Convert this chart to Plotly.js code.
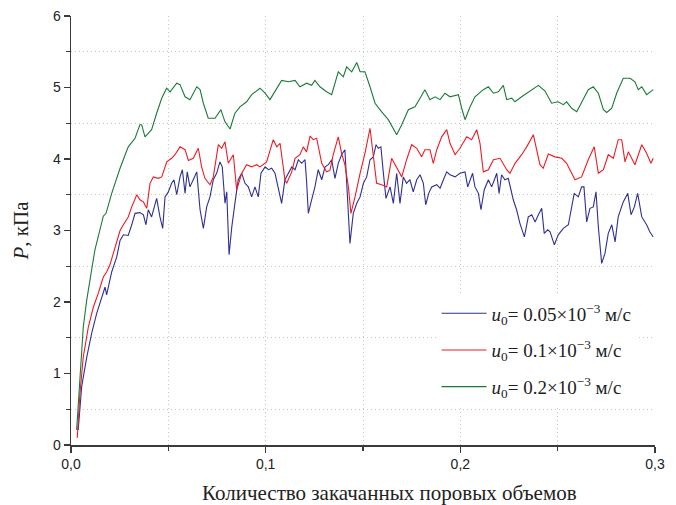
<!DOCTYPE html>
<html>
<head>
<meta charset="utf-8">
<script src="https://cdn.plot.ly/plotly-3.0.1.min.js"></script>
<style>html,body{margin:0;padding:0;background:#fff;}#chart{width:676px;height:505px;}</style>
</head>
<body>
<div id="chart"></div>
<script>
var seriesNames = [
  "<i>u</i><sub>0</sub>= 0.05×10<sup>−3</sup> м/с",
  "<i>u</i><sub>0</sub>= 0.1×10<sup>−3</sup> м/с",
  "<i>u</i><sub>0</sub>= 0.2×10<sup>−3</sup> м/с"
];
var xTitle = "Количество закачанных поровых объемов";
var yTitle = "<i>P</i>, кПа";
var xTickVals = [0, 0.1, 0.2, 0.3];
var xTickText = ["0,0", "0,1", "0,2", "0,3"];

var blueX = [0.0037,0.0055,0.0081,0.0106,0.0132,0.0158,0.0175,0.0183,0.0209,0.0235,0.0252,0.0269,0.0294,0.0312,0.0329,0.0354,0.0372,0.0385,0.0397,0.0414,0.044,0.0457,0.0471,0.0483,0.05,0.0517,0.0529,0.0543,0.056,0.0572,0.0586,0.0597,0.0611,0.0628,0.0646,0.0663,0.068,0.0697,0.0714,0.0731,0.0748,0.0765,0.0777,0.0791,0.08,0.0812,0.0826,0.0842,0.0859,0.0877,0.0894,0.0911,0.0928,0.0945,0.0962,0.0976,0.0997,0.1014,0.1031,0.1048,0.1065,0.1082,0.1099,0.1116,0.1134,0.1151,0.1168,0.1185,0.1202,0.121,0.1219,0.1236,0.1253,0.127,0.1288,0.1305,0.1322,0.1339,0.1356,0.1373,0.139,0.1407,0.1421,0.1433,0.145,0.1468,0.1485,0.1502,0.1519,0.1536,0.1553,0.1567,0.1579,0.1592,0.1604,0.1618,0.1639,0.1656,0.1673,0.169,0.1707,0.1724,0.1741,0.1758,0.1776,0.1793,0.181,0.1822,0.1839,0.1853,0.1879,0.1896,0.1913,0.193,0.1947,0.1973,0.1998,0.2024,0.2038,0.205,0.2063,0.2075,0.2093,0.2106,0.2123,0.2144,0.2161,0.2175,0.2187,0.2199,0.2212,0.2229,0.2246,0.226,0.2272,0.2289,0.2306,0.2329,0.2349,0.2367,0.2384,0.2401,0.2418,0.2431,0.2449,0.2461,0.2483,0.2503,0.2529,0.2555,0.2572,0.2585,0.2606,0.2623,0.2635,0.2649,0.2666,0.2683,0.2697,0.2709,0.2726,0.2743,0.276,0.2778,0.2795,0.2811,0.2837,0.286,0.2877,0.2894,0.2911,0.2932,0.2957,0.2974,0.2991];
var blueY = [0.21,0.82,1.23,1.56,1.84,2.07,2.21,2.10,2.42,2.63,2.86,2.94,2.93,3.08,3.24,3.25,3.22,3.08,3.29,3.19,3.45,3.19,3.03,3.47,3.54,3.66,3.71,3.50,3.75,3.85,3.52,3.82,3.61,3.71,3.82,3.29,3.03,3.33,3.47,3.71,3.80,3.96,3.89,3.38,3.54,2.66,3.05,3.38,3.71,3.80,3.66,3.61,3.47,3.61,3.47,3.80,3.89,3.85,3.87,3.80,3.61,3.38,3.71,3.80,3.89,3.85,3.99,3.94,3.99,3.70,3.24,3.43,3.61,3.85,3.71,3.89,3.92,3.99,3.73,3.94,4.06,4.13,3.38,2.82,3.24,3.38,3.47,3.66,3.75,3.99,4.03,4.20,4.15,4.17,3.82,3.45,3.61,3.38,3.80,3.38,3.75,3.66,3.71,3.54,3.71,3.78,3.66,3.36,3.53,3.61,3.64,3.59,3.71,3.82,3.78,3.75,3.80,3.82,3.61,3.71,3.80,3.61,3.52,3.29,3.57,3.71,3.61,3.71,3.80,3.52,3.78,3.71,3.73,3.57,3.43,3.29,3.10,2.91,3.19,3.22,3.12,3.22,3.31,2.96,3.01,2.98,2.80,2.94,3.03,3.08,3.33,3.52,3.47,3.61,3.61,3.12,3.31,3.33,3.54,3.05,2.54,2.68,2.96,3.08,2.84,3.19,3.40,3.52,3.22,3.33,3.52,3.19,3.08,2.98,2.91];

var redX = [0.0032,0.0046,0.0063,0.0089,0.0115,0.014,0.0166,0.0183,0.02,0.0226,0.0252,0.0269,0.0294,0.0312,0.0338,0.0354,0.0372,0.0389,0.0406,0.0423,0.0449,0.0466,0.0492,0.0517,0.0534,0.056,0.0586,0.0603,0.0628,0.0654,0.0671,0.0688,0.0714,0.0731,0.0757,0.0774,0.0791,0.0808,0.0834,0.0851,0.0877,0.0902,0.0928,0.0954,0.0971,0.1005,0.1039,0.1057,0.1074,0.1099,0.1108,0.1134,0.1151,0.1176,0.1193,0.121,0.1228,0.1245,0.1262,0.1288,0.1313,0.133,0.1347,0.1373,0.139,0.1407,0.1425,0.1438,0.1459,0.1485,0.151,0.1536,0.1553,0.157,0.1596,0.1622,0.1647,0.1673,0.1699,0.1724,0.175,0.1776,0.1801,0.1818,0.1844,0.1861,0.1879,0.1904,0.193,0.1947,0.1973,0.1998,0.2033,0.2058,0.2084,0.2101,0.2118,0.2144,0.217,0.2204,0.2238,0.2255,0.2281,0.2315,0.2341,0.2375,0.2392,0.2409,0.2426,0.2452,0.2486,0.2521,0.2546,0.2563,0.2589,0.2623,0.2657,0.2688,0.2709,0.2735,0.276,0.2786,0.2811,0.2829,0.2846,0.2863,0.2897,0.2932,0.2957,0.2979,0.2991];
var redY = [0.10,0.72,1.23,1.65,1.93,2.12,2.35,2.42,2.52,2.75,3.00,3.08,3.19,3.33,3.50,3.43,3.40,3.31,3.66,3.75,3.73,3.75,3.96,4.01,4.06,4.17,4.13,3.98,4.01,4.15,3.89,3.73,3.64,3.75,4.20,4.15,4.24,3.94,4.06,3.57,3.80,3.92,3.89,3.92,3.89,3.96,4.27,4.17,4.22,3.71,3.66,3.82,4.01,4.06,4.17,4.10,4.32,4.27,4.29,3.94,3.82,3.84,4.06,4.31,4.08,3.92,3.61,3.24,3.47,3.80,4.08,4.43,4.03,3.66,3.64,3.61,4.01,3.89,3.75,3.99,4.20,4.15,4.03,4.13,4.13,3.94,4.13,4.31,4.41,4.22,4.06,4.15,4.31,4.27,4.41,4.22,3.82,3.85,3.99,4.01,3.85,3.80,3.94,4.06,4.17,4.34,4.13,3.92,3.87,4.07,4.03,4.01,3.94,3.85,3.71,3.75,3.99,4.17,3.80,3.85,4.06,4.01,4.27,4.27,3.96,4.10,3.92,4.20,4.08,3.94,4.01];

var greenX = [0.0029,0.0046,0.0063,0.0081,0.0098,0.0106,0.0123,0.0149,0.0166,0.018,0.0192,0.0209,0.0252,0.0294,0.0329,0.0354,0.0363,0.038,0.0397,0.0414,0.044,0.0466,0.0491,0.0509,0.0543,0.056,0.0586,0.0611,0.0646,0.0663,0.068,0.0705,0.074,0.077,0.0791,0.0817,0.0842,0.0868,0.0902,0.0928,0.0971,0.0997,0.1022,0.1048,0.1082,0.1116,0.1151,0.1176,0.1211,0.1236,0.1253,0.1279,0.1313,0.1339,0.1373,0.1399,0.1416,0.1442,0.1468,0.1485,0.151,0.1536,0.1562,0.1596,0.163,0.1673,0.1699,0.1733,0.1767,0.1793,0.1818,0.1844,0.187,0.1896,0.1921,0.1947,0.199,0.2007,0.2024,0.205,0.2075,0.2118,0.2144,0.217,0.2195,0.2221,0.2238,0.2264,0.2281,0.2315,0.2367,0.2401,0.2435,0.2469,0.2503,0.2529,0.2546,0.2572,0.2598,0.2623,0.2657,0.2683,0.2709,0.2735,0.2752,0.2778,0.2803,0.2837,0.2872,0.2897,0.2914,0.2932,0.2957,0.2991];
var greenY = [0.21,1.00,1.65,2.03,2.35,2.45,2.73,3.00,3.20,3.24,3.36,3.52,3.87,4.17,4.29,4.48,4.48,4.31,4.36,4.41,4.64,4.85,4.99,4.94,5.06,5.04,4.87,4.83,5.01,4.97,4.78,4.57,4.57,4.69,4.52,4.42,4.64,4.73,4.80,4.90,4.99,4.92,4.83,4.94,5.10,5.08,5.10,5.01,5.06,5.03,5.10,5.01,4.94,4.90,5.22,5.15,5.29,5.22,5.35,5.22,5.22,5.01,4.78,4.66,4.55,4.34,4.48,4.69,4.73,4.85,4.97,4.83,4.87,4.83,4.92,4.87,4.90,4.71,4.55,4.73,4.87,4.97,5.01,4.92,4.94,5.03,4.83,4.85,4.80,4.87,4.97,5.03,4.95,4.78,4.80,4.76,4.80,4.71,4.66,4.80,4.97,5.01,4.92,4.69,4.65,4.71,4.92,5.13,5.13,5.08,4.97,5.01,4.90,4.97];

var colors = ["#2e3192", "#ed1c24", "#1b7a3a"];
var serif = "'Liberation Serif', 'Times New Roman', serif";
var sans = "'Liberation Sans', Arial, sans-serif";

var traces = [
  {x: blueX, y: blueY, name: seriesNames[0], legendgroup: "g1", type: "scatter", mode: "lines", line: {color: colors[0], width: 1.1}},
  {x: redX, y: redY, name: seriesNames[1], legendgroup: "g2", type: "scatter", mode: "lines", line: {color: colors[1], width: 1.1}},
  {x: greenX, y: greenY, name: seriesNames[2], legendgroup: "g3", type: "scatter", mode: "lines", line: {color: colors[2], width: 1.1}}
];

var axisCommon = {
  showline: true, linecolor: "#3a3a3a", linewidth: 1.5,
  ticks: "outside", ticklen: 6, tickwidth: 1.3, tickcolor: "#3a3a3a",
  showgrid: false, zeroline: false,
  tickfont: {family: sans, size: 14, color: "#222"}
};
var minorCommon = {ticks: "outside", ticklen: 4, tickcolor: "#3a3a3a", showgrid: true, griddash: "1px,3px", gridcolor: "#c4c4c4", gridwidth: 1};

var layout = {
  width: 676, height: 505,
  margin: {l: 71, r: 21, t: 16, b: 60},
  paper_bgcolor: "#fff", plot_bgcolor: "#fff",
  separators: ", ",
  showlegend: true,
  legend: {
    x: 0.626, y: 0.351, xanchor: "left", yanchor: "top",
    bgcolor: "#fff", borderwidth: 0,
    font: {family: serif, size: 19, color: "#222"},
    itemwidth: 45, tracegroupgap: 9, traceorder: "grouped"
  },
  xaxis: Object.assign({}, axisCommon, {
    range: [0, 0.3], tickmode: "array", tickvals: xTickVals, ticktext: xTickText,
    minor: Object.assign({dtick: 0.05}, minorCommon)
  }),
  yaxis: Object.assign({}, axisCommon, {
    range: [0, 6], dtick: 1, tick0: 0,
    minor: Object.assign({dtick: 0.5}, minorCommon),
    title: {text: yTitle, standoff: 18,
      font: {family: serif, size: 21, color: "#222"}}
  }),
  annotations: [{
    text: xTitle, xref: "paper", yref: "paper", x: 0.546, y: -0.112,
    xanchor: "center", yanchor: "middle", showarrow: false,
    font: {family: serif, size: 21, color: "#222"}
  }]
};

Plotly.newPlot("chart", traces, layout, {displayModeBar: false, staticPlot: true});
</script>
</body>
</html>
